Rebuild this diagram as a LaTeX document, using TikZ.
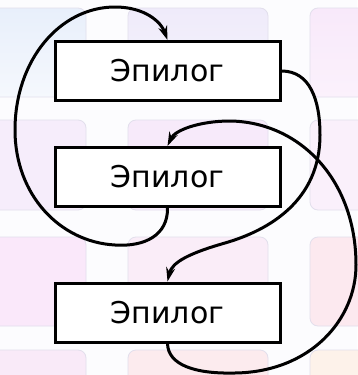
\documentclass[tikz,border=0pt]{standalone}
\usepackage{fontspec}
\setmainfont{DejaVu Sans}
\usetikzlibrary{arrows.meta}
\definecolor{bgA1}{HTML}{E8EFFB}
\definecolor{bgA1b}{HTML}{F5F8FD}
\definecolor{bgB1}{HTML}{EFEBFA}
\definecolor{bgB1b}{HTML}{F6F3FC}
\definecolor{bgC1}{HTML}{F8E9FA}
\definecolor{bgC1b}{HTML}{FBF1FC}
\definecolor{bgA2}{HTML}{F6EDFB}
\definecolor{bgB2}{HTML}{F7EAFA}
\definecolor{bgC2}{HTML}{FAF0FB}
\definecolor{bgA3}{HTML}{FAE8FA}
\definecolor{bgB3}{HTML}{FAEDF8}
\definecolor{bgC3}{HTML}{FCE9EF}
\definecolor{bgA4}{HTML}{F9EAF8}
\definecolor{bgB4}{HTML}{FCEBEE}
\definecolor{bgC4}{HTML}{FDF2EA}
\definecolor{tileedge}{HTML}{E2DFEC}
\definecolor{paper}{HTML}{FCFCFE}
\tikzset{
  tile/.style={rounded corners=8pt, draw=tileedge, line width=0.8pt},
  box/.style={draw, fill=white, line width=3pt, minimum width=225pt, minimum height=59pt, inner sep=0pt, font=\fontsize{30}{32}\selectfont},
  conn/.style={line width=3pt, -{Stealth[length=14pt,width=9pt]}}
}
\begin{document}
\begin{tikzpicture}[x=1pt,y=-1pt]
\useasboundingbox (0,0) rectangle (357,375);
\fill[paper] (0,0) rectangle (357,375);
% background tiles
\shade[tile, top color=bgA1, bottom color=bgA1b] (-10,8) rectangle (86,97);
\shade[tile, top color=bgB1, bottom color=bgB1b] (128,8) rectangle (268,97);
\shade[tile, top color=bgC1, bottom color=bgC1b] (310,8) rectangle (372,97);
\fill[tile, fill=bgA2] (-10,120) rectangle (86,210);
\fill[tile, fill=bgB2] (128,120) rectangle (268,210);
\fill[tile, fill=bgC2] (310,120) rectangle (372,210);
\fill[tile, fill=bgA3] (-10,237) rectangle (86,326);
\fill[tile, fill=bgB3] (128,237) rectangle (268,326);
\fill[tile, fill=bgC3] (310,237) rectangle (372,326);
\fill[tile, fill=bgA4] (-10,350) rectangle (86,395);
\fill[tile, fill=bgB4] (128,350) rectangle (268,395);
\fill[tile, fill=bgC4] (310,350) rectangle (372,395);
% boxes
\node[box] (b1) at (167.5,71) {Эпилог};
\node[box] (b2) at (167.5,177) {Эпилог};
\node[box] (b3) at (167.5,312.5) {Эпилог};
% connectors
\draw[conn] (b2.south) .. controls (168,235) and (145,247) .. (115,245)
  .. controls (60,242) and (15,195) .. (15,130)
  .. controls (15,60) and (60,7) .. (115,7)
  .. controls (145,7) and (161,22) .. (b1.north);
\draw[conn] (b1.east) .. controls (310,71) and (320,100) .. (320,135)
  .. controls (320,200) and (270,230) .. (225,243)
  .. controls (190,253) and (172,262) .. (b3.north);
\draw[conn] (b3.south) .. controls (168,365) and (195,374) .. (235,373)
  .. controls (310,372) and (356,320) .. (356,265)
  .. controls (356,180) and (300,122) .. (230,121)
  .. controls (200,121) and (175,130) .. (b2.north);
\end{tikzpicture}
\end{document}
